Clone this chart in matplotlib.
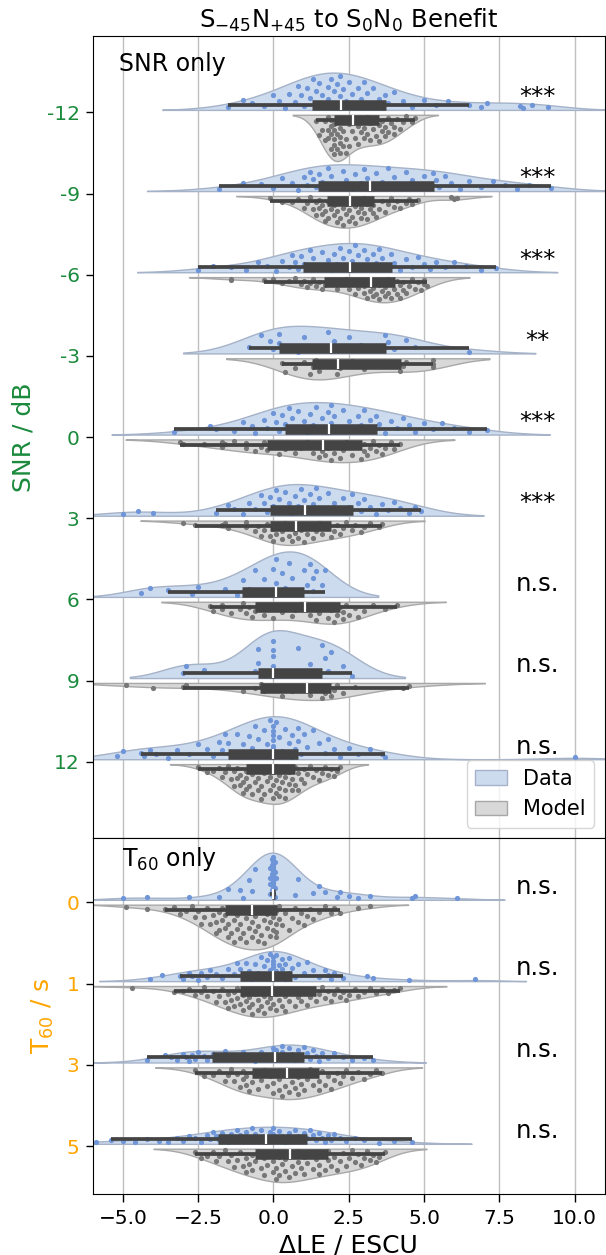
import numpy as np
import matplotlib
matplotlib.use("Agg")

import matplotlib.pyplot as plt
import matplotlib.patches as mpatches

# categories and significance labels
snr_levels = ["-12", "-9", "-6", "-3", "0", "3", "6", "9", "12"]
t60_levels = ["0", "1", "3", "5"]
snr_sig = ["***", "***", "***", "**", "***", "***", "n.s.", "n.s.", "n.s."]
t60_sig = ["n.s.", "n.s.", "n.s.", "n.s."]

# benefit values (dLE / ESCU), SNR-only conditions
snr_m12_data = [-1.5, -1.0, -0.7, -0.3, 0.0, 0.2, 0.4, 0.5, 0.7, 0.8, 0.9, 1.0, 1.1, 1.2,
                1.3, 1.4, 1.4, 1.5, 1.6, 1.7, 1.8, 1.8, 1.9, 2.0, 2.0, 2.1, 2.2, 2.2,
                2.3, 2.4, 2.5, 2.6, 2.7, 2.8, 2.9, 3.0, 3.1, 3.2, 3.3, 3.5, 3.6, 3.7,
                3.8, 4.0, 4.3, 4.6, 5.0, 5.4, 5.8, 6.5, 6.9, 7.1, 8.2, 8.3, 8.6, 9.1]
snr_m12_model = [1.4, 1.5, 1.6, 1.7, 1.7, 1.8, 1.8, 1.8, 1.9, 1.9, 1.9, 1.9, 2.0, 2.0, 2.0, 2.0,
                 2.0, 2.1, 2.1, 2.1, 2.2, 2.2, 2.2, 2.2, 2.3, 2.3, 2.3, 2.4, 2.4, 2.5, 2.5, 2.6,
                 2.7, 2.7, 2.8, 2.8, 2.9, 2.9, 3.0, 3.0, 3.1, 3.1, 3.2, 3.2, 3.3, 3.4, 3.4, 3.5,
                 3.5, 3.6, 3.6, 3.7, 3.7, 3.8, 3.8, 3.9, 4.0, 4.0, 4.1, 4.2, 4.3, 4.4, 4.6, 4.7]
snr_m9_data = [-1.8, -1.0, -0.4, 0.0, 0.3, 0.6, 0.8, 1.0, 1.1, 1.2, 1.3, 1.4,
               1.5, 1.6, 1.8, 1.9, 2.1, 2.3, 2.4, 2.6, 2.7, 2.9, 3.0, 3.1,
               3.3, 3.4, 3.6, 3.8, 4.0, 4.2, 4.4, 4.6, 4.8, 5.0, 5.2, 5.3,
               5.4, 5.5, 5.7, 5.9, 6.2, 6.5, 6.9, 7.3, 7.7, 8.1, 8.5, 9.2]
snr_m9_model = [-0.1, 0.3, 0.6, 0.8, 1.0, 1.1, 1.2, 1.3, 1.4, 1.4, 1.5, 1.5, 1.6, 1.6, 1.7, 1.7,
                1.8, 1.8, 1.9, 1.9, 2.0, 2.0, 2.1, 2.1, 2.2, 2.2, 2.3, 2.3, 2.4, 2.4, 2.5, 2.5,
                2.6, 2.6, 2.7, 2.7, 2.8, 2.8, 2.9, 2.9, 3.0, 3.0, 3.1, 3.1, 3.2, 3.2, 3.3, 3.3,
                3.4, 3.5, 3.6, 3.7, 3.8, 3.9, 4.0, 4.1, 4.2, 4.4, 4.5, 4.6, 4.8, 5.9, 6.0, 6.1]
snr_m6_data = [-2.5, -2.0, -1.4, -0.9, -0.5, -0.2, 0.1, 0.3, 0.5, 0.6, 0.7, 0.8, 0.9,
               1.0, 1.2, 1.3, 1.5, 1.6, 1.8, 1.9, 2.0, 2.1, 2.2, 2.3, 2.4, 2.5,
               2.6, 2.7, 2.8, 2.9, 3.0, 3.1, 3.2, 3.3, 3.4, 3.5, 3.6, 3.8, 3.9,
               4.0, 4.2, 4.4, 4.6, 4.8, 5.0, 5.2, 5.4, 5.7, 6.0, 6.4, 6.9, 7.4]
snr_m6_model = [-1.4, -1.4, -0.3, 0.0, 0.3, 0.5, 0.7, 0.9, 1.0, 1.1, 1.2, 1.3, 1.4, 1.5, 1.6,
                1.7, 1.9, 2.1, 2.3, 2.4, 2.5, 2.6, 2.7, 2.8, 2.9, 3.0, 3.0, 3.1, 3.2, 3.2,
                3.3, 3.3, 3.4, 3.4, 3.5, 3.5, 3.6, 3.6, 3.7, 3.7, 3.8, 3.8, 3.9, 3.9, 4.0,
                4.1, 4.1, 4.2, 4.2, 4.3, 4.3, 4.4, 4.5, 4.6, 4.7, 4.8, 4.9, 5.0, 5.0, 5.1]
snr_m3_data = [-0.8, -0.4, -0.1, 0.0, 0.2, 0.2, 0.8, 1.0, 1.3, 1.8,
               2.0, 2.1, 2.5, 2.9, 3.7, 3.8, 4.0, 4.4, 4.7, 6.5]
snr_m3_model = [0.3, 0.4, 0.7, 1.0, 1.2, 1.3, 1.4, 1.5, 2.0, 2.1,
                2.2, 2.6, 3.0, 3.6, 4.2, 4.3, 4.4, 5.3, 5.3, 5.3]
snr_0_data = [-3.3, -2.1, -1.9, -1.3, -1.0, -0.7, -0.6, -0.3, -0.2, 0.0, 0.1, 0.2, 0.3,
              0.4, 0.5, 0.6, 0.7, 0.8, 1.0, 1.1, 1.2, 1.3, 1.4, 1.6, 1.7, 1.8,
              1.9, 1.9, 2.0, 2.2, 2.3, 2.5, 2.6, 2.8, 2.9, 3.0, 3.2, 3.3, 3.4,
              3.5, 3.7, 3.9, 4.1, 4.3, 4.5, 4.7, 5.0, 5.3, 5.6, 6.0, 6.5, 7.1]
snr_0_model = [-3.1, -3.0, -2.3, -1.7, -1.7, -1.6, -1.3, -0.9, -0.9, -0.6, -0.4, -0.3,
               -0.2, 0.0, 0.2, 0.4, 0.6, 0.7, 0.9, 1.1, 1.3, 1.4, 1.5, 1.6,
               1.7, 1.7, 1.8, 1.9, 2.0, 2.1, 2.2, 2.3, 2.4, 2.6, 2.7, 2.9,
               3.0, 3.0, 3.1, 3.2, 3.3, 3.4, 3.5, 3.6, 3.7, 3.9, 4.0, 4.2]
snr_3_data = [-5.0, -4.5, -4.0, -1.9, -1.5, -1.3, -1.0, -0.8, -0.6, -0.4, -0.3, -0.2,
              -0.1, 0.0, 0.1, 0.2, 0.3, 0.4, 0.5, 0.6, 0.7, 0.8, 0.9, 1.0,
              1.1, 1.2, 1.3, 1.4, 1.5, 1.7, 1.8, 2.0, 2.1, 2.3, 2.5, 2.6,
              2.8, 2.9, 3.0, 3.2, 3.4, 3.6, 3.8, 4.0, 4.2, 4.5, 4.7, 4.9]
snr_3_model = [-3.0, -2.6, -1.7, -1.6, -1.5, -0.9, -0.9, -0.6, -0.5, -0.4, -0.3, -0.2,
               -0.1, 0.0, 0.0, 0.1, 0.2, 0.3, 0.3, 0.4, 0.5, 0.5, 0.6, 0.7,
               0.8, 0.8, 0.9, 1.0, 1.1, 1.2, 1.3, 1.4, 1.5, 1.6, 1.8, 1.9,
               2.0, 2.1, 2.2, 2.3, 2.4, 2.6, 2.7, 2.9, 3.0, 3.2, 3.5, 3.6]
snr_6_data = [-4.4, -4.1, -3.5, -2.7, -2.5, -1.6, -1.2,
              -1.0, -0.8, -0.6, -0.3, -0.1, 0.0, 0.1,
              0.1, 0.3, 0.4, 0.5, 0.6, 0.8, 1.0,
              1.1, 1.2, 1.3, 1.3, 1.4, 1.6, 1.7]
snr_6_model = [-2.1, -2.0, -1.7, -1.7, -1.4, -1.1, -1.0, -0.9, -0.8, -0.7,
               -0.6, -0.5, -0.3, -0.1, 0.0, 0.3, 0.4, 0.6, 0.7, 0.9,
               1.2, 1.3, 1.4, 1.5, 1.7, 1.8, 1.9, 2.0, 2.1, 2.2,
               2.3, 2.3, 2.4, 2.5, 2.7, 2.8, 3.0, 3.3, 3.7, 4.1]
snr_9_data = [-3.0, -2.9, -2.3, -0.6, -0.5, -0.5, 0.0, 0.0, 0.0, 0.0,
              0.0, 0.3, 0.8, 1.2, 1.6, 1.7, 1.8, 1.9, 2.3, 2.6]
snr_9_model = [-4.9, -4.0, -3.0, -2.9, -1.0, -0.6, -0.4, -0.3, 0.0, 0.3, 0.6, 1.0,
               1.2, 1.5, 1.6, 1.7, 1.8, 1.9, 2.0, 2.1, 2.3, 2.7, 4.3, 4.5]
snr_12_data = [-5.2, -5.0, -4.4, -4.3, -4.1, -3.9, -3.5, -3.2, -2.8, -2.5, -2.2, -2.0, -1.8, -1.7, -1.6,
               -1.5, -1.3, -1.2, -1.0, -0.9, -0.8, -0.7, -0.6, -0.5, -0.4, -0.3, -0.2, -0.1, 0.0, 0.0,
               0.0, 0.0, 0.0, 0.0, 0.0, 0.1, 0.2, 0.3, 0.4, 0.5, 0.6, 0.6, 0.7, 0.8, 0.8,
               0.9, 1.0, 1.1, 1.3, 1.5, 1.7, 1.8, 2.0, 2.2, 2.5, 2.8, 3.2, 3.6, 3.7, 10.0]
snr_12_model = [-2.5, -2.2, -2.0, -1.8, -1.7, -1.6, -1.5, -1.4, -1.3, -1.3, -1.2, -1.2, -1.1, -1.1,
                -1.0, -1.0, -0.9, -0.9,
                -0.9, -0.8, -0.8, -0.7, -0.7, -0.6, -0.6, -0.5, -0.5, -0.4, -0.4, -0.3, -0.3, -0.2,
                -0.2, -0.1, -0.1, 0.0,
                0.0, 0.0, 0.1, 0.1, 0.1, 0.2, 0.2, 0.2, 0.3, 0.3, 0.4, 0.4, 0.4, 0.5, 0.5, 0.6,
                0.6, 0.7,
                0.7, 0.8, 0.8, 0.9, 1.0, 1.0, 1.1, 1.2, 1.3, 1.4, 1.5, 1.6, 1.7, 1.8, 1.9, 2.0,
                2.1, 2.2]

# T60-only conditions
t60_0_data = [-5.0, -4.2, -2.8, -1.8, -1.5, -1.1, -1.0, -0.8, -0.7, -0.6,
              -0.1, -0.1, -0.1, -0.1, -0.05, -0.05, -0.05, -0.05,
              0.0, 0.0, 0.0, 0.0, 0.0, 0.0, 0.0, 0.0, 0.0, 0.0, 0.0,
              0.0, 0.0, 0.0, 0.0, 0.0, 0.0, 0.0, 0.0, 0.0, 0.0, 0.0,
              0.05, 0.05, 0.05, 0.05,
              0.1, 0.7, 0.8, 1.3, 1.5, 1.7, 2.1, 2.2, 2.5, 2.8, 3.2, 4.6, 4.7, 6.1]
t60_0_model = [-4.9, -4.2, -3.6, -3.3, -3.1, -2.9, -2.7, -2.6, -2.5, -2.4, -2.3, -2.2, -2.1, -2.0,
               -1.9, -1.9, -1.8, -1.8, -1.7, -1.7,
               -1.6, -1.6, -1.5, -1.5, -1.4, -1.4, -1.3, -1.3, -1.2, -1.2, -1.1, -1.1, -1.0, -1.0,
               -0.9, -0.9, -0.8, -0.8, -0.7, -0.7,
               -0.7, -0.6, -0.6, -0.5, -0.5, -0.4, -0.4, -0.3, -0.3, -0.2, -0.2, -0.1, -0.1, 0.0,
               0.0, 0.0, 0.1, 0.1, 0.1, 0.1,
               0.2, 0.2, 0.3, 0.4, 0.5, 0.6, 0.7, 0.8, 0.9, 1.0, 1.1, 1.2, 1.3, 1.5,
               1.7, 1.9, 2.0, 2.2, 2.8, 3.2]
t60_1_data = [-4.1, -3.7, -3.1, -3.0, -2.8, -2.7, -2.5, -2.4, -2.2, -2.1, -1.9, -1.7, -1.5, -1.3, -1.2,
              -1.1, -1.0, -0.9, -0.8, -0.7, -0.6, -0.5, -0.4, -0.3, -0.2, -0.2, -0.1, -0.1, 0.0, 0.0,
              0.0, 0.0, 0.0, 0.0, 0.1, 0.1, 0.2, 0.2, 0.3, 0.3, 0.4, 0.4, 0.5, 0.5, 0.6,
              0.7, 0.8, 1.0, 1.1, 1.3, 1.5, 1.7, 1.8, 1.9, 2.0, 2.3, 3.1, 3.3, 4.5, 6.7]
t60_1_model = [-4.7, -3.3, -3.0, -2.8, -2.6, -2.4, -2.3, -2.2, -2.0, -1.9, -1.8, -1.7, -1.6, -1.5,
               -1.5, -1.4, -1.3, -1.3, -1.2, -1.2,
               -1.1, -1.0, -1.0, -0.9, -0.9, -0.8, -0.8, -0.7, -0.7, -0.6, -0.5, -0.5, -0.4, -0.4,
               -0.3, -0.3, -0.2, -0.2, -0.1, -0.1,
               0.0, 0.0, 0.1, 0.1, 0.2, 0.2, 0.3, 0.4, 0.4, 0.5, 0.6, 0.7, 0.8, 0.8,
               0.9, 1.0, 1.1, 1.2, 1.3, 1.4,
               1.5, 1.6, 1.7, 1.8, 1.9, 2.0, 2.1, 2.2, 2.3, 2.4, 2.5, 2.7, 2.8, 3.0,
               3.2, 3.4, 3.6, 3.8, 4.0, 4.2]
t60_3_data = [-4.2, -3.6, -3.4, -3.2, -3.0, -2.9, -2.8, -2.7, -2.6, -2.5, -2.3, -2.2,
              -2.0, -1.8, -1.6, -1.4, -1.2, -1.0, -0.8, -0.6, -0.4, -0.2, 0.0, 0.0,
              0.1, 0.1, 0.2, 0.3, 0.3, 0.4, 0.5, 0.6, 0.7, 0.8, 0.9, 1.0,
              1.1, 1.2, 1.3, 1.4, 1.5, 1.6, 1.8, 2.0, 2.3, 2.6, 3.0, 3.3]
t60_3_model = [-2.6, -2.3, -2.0, -1.8, -1.6, -1.5, -1.4, -1.3, -1.2, -1.1, -1.0, -1.0, -0.9, -0.9, -0.8,
               -0.7, -0.6, -0.5, -0.4, -0.3, -0.2, -0.1, 0.0, 0.0, 0.1, 0.2, 0.2, 0.3, 0.4, 0.4,
               0.5, 0.6, 0.6, 0.7, 0.8, 0.8, 0.9, 1.0, 1.0, 1.1, 1.2, 1.3, 1.4, 1.5, 1.5,
               1.6, 1.7, 1.8, 1.9, 2.0, 2.1, 2.2, 2.3, 2.4, 2.6, 2.8, 3.0, 3.2, 3.4, 3.6]
t60_5_data = [-5.9, -5.4, -5.0, -4.6, -4.2, -3.8, -3.5, -3.2, -3.0, -2.8, -2.6, -2.4, -2.2, -2.1, -2.0, -1.9,
              -1.8, -1.7, -1.6, -1.5, -1.4, -1.3, -1.2, -1.1, -1.0, -0.9, -0.8, -0.7, -0.6, -0.5, -0.4, -0.3,
              -0.2, -0.1, -0.1, 0.0, 0.0, 0.1, 0.2, 0.3, 0.4, 0.5, 0.6, 0.7, 0.8, 0.9, 1.0, 1.1,
              1.2, 1.3, 1.4, 1.5, 1.6, 1.7, 1.8, 1.9, 2.0, 2.2, 2.4, 2.7, 3.0, 3.5, 4.0, 4.6]
t60_5_model = [-2.6, -2.4, -2.2, -2.0, -1.9, -1.8, -1.6, -1.5, -1.4, -1.3, -1.2, -1.1, -1.0, -0.9,
               -0.9, -0.8, -0.7, -0.7,
               -0.6, -0.5, -0.4, -0.3, -0.3, -0.2, -0.1, 0.0, 0.0, 0.1, 0.1, 0.2, 0.2, 0.3,
               0.3, 0.4, 0.4, 0.5,
               0.6, 0.6, 0.7, 0.8, 0.8, 0.9, 1.0, 1.0, 1.1, 1.2, 1.3, 1.4, 1.5, 1.5,
               1.6, 1.7, 1.8, 1.8,
               1.9, 2.0, 2.1, 2.2, 2.3, 2.4, 2.5, 2.6, 2.7, 2.8, 2.9, 3.0, 3.1, 3.2,
               3.3, 3.4, 3.5, 3.7]

snr_data = [snr_m12_data, snr_m9_data, snr_m6_data, snr_m3_data, snr_0_data,
            snr_3_data, snr_6_data, snr_9_data, snr_12_data]
snr_model = [snr_m12_model, snr_m9_model, snr_m6_model, snr_m3_model, snr_0_model,
             snr_3_model, snr_6_model, snr_9_model, snr_12_model]
t60_data = [t60_0_data, t60_1_data, t60_3_data, t60_5_data]
t60_model = [t60_0_model, t60_1_model, t60_3_model, t60_5_model]

# half-violin heights in category units (style)
snr_h_data = [0.46, 0.33, 0.36, 0.34, 0.40, 0.39, 0.56, 0.59, 0.53]
snr_h_model = [0.57, 0.39, 0.31, 0.26, 0.28, 0.30, 0.27, 0.21, 0.49]
t60_h_data = [0.58, 0.37, 0.22, 0.21]
t60_h_model = [0.55, 0.38, 0.39, 0.41]

GREEN = "#1a8a3c"
ORANGE = "#ffa500"
DATA_FACE, DATA_EDGE, DATA_DOT = "#cddbef", "#a5b2c7", "#6e95d8"
MODEL_FACE, MODEL_EDGE, MODEL_DOT = "#d8d8d8", "#a8a8a8", "#777777"
BOX_C = "#444444"
GAP = 0.03
BOX_OFF = 0.095
WHIS = 1.25


def half_violin(ax, vals, pos, height, side, face, edge, dot):
    # side -1 draws towards the top of the axes (y inverted), +1 towards the bottom
    v = np.asarray(vals, dtype=float)
    bw = v.std(ddof=1) * len(v) ** (-0.2)
    grid = np.linspace(v.min() - 2 * bw, v.max() + 2 * bw, 250)
    dens = np.exp(-0.5 * ((grid[:, None] - v[None, :]) / bw) ** 2).sum(axis=1)
    dens = dens / dens.max() * height
    base = pos + side * GAP
    ax.fill_between(grid, base, base + side * dens,
                    facecolor=face, edgecolor=edge, linewidth=1.0, zorder=1)

    # sina-style points, spread by local density
    u = (np.arange(len(v)) * 0.6180339887 + 0.31) % 1.0
    w = np.interp(v, grid, dens)
    ax.scatter(v, base + side * (0.015 + u * 0.88 * w),
               s=14, color=dot, linewidths=0, zorder=2)

    # inner box
    q1, med, q3 = np.percentile(v, [25, 50, 75])
    iqr = q3 - q1
    lo = v[v >= q1 - WHIS * iqr].min()
    hi = v[v <= q3 + WHIS * iqr].max()
    yb = pos + side * BOX_OFF
    ax.plot([lo, hi], [yb, yb], color=BOX_C, lw=2.7,
            solid_capstyle="butt", zorder=3)
    ax.plot([q1, q3], [yb, yb], color=BOX_C, lw=7.6,
            solid_capstyle="butt", zorder=3)
    ax.plot([med], [yb], marker="|", color="white", ms=7,
            mew=1.6, zorder=4)


def draw_panel(ax, data, model, h_data, h_model, labels, sig, color, ylabel):
    for i in range(len(labels)):
        half_violin(ax, data[i], i, h_data[i], -1, DATA_FACE, DATA_EDGE, DATA_DOT)
        half_violin(ax, model[i], i, h_model[i], 1, MODEL_FACE, MODEL_EDGE, MODEL_DOT)
        ax.text(8.75, i - 0.1, sig[i], ha="center", va="baseline", fontsize=17.5)

    ax.set_xlim(-6, 11)
    ax.set_xticks(np.arange(-5, 10.1, 2.5))
    ax.set_yticks(range(len(labels)))
    ax.set_yticklabels(labels)
    ax.tick_params(axis="y", labelsize=14.5, labelcolor=color,
                   length=5, width=1, pad=4.5)
    ax.tick_params(axis="x", labelsize=14.5, length=5.5, width=1, pad=5)
    ax.set_ylabel(ylabel, color=color, fontsize=18, labelpad=8)
    ax.grid(axis="x", color="#bfbfbf", linewidth=1.0)
    ax.set_axisbelow(True)


fig = plt.figure(figsize=(6.06, 12.55), dpi=100)
ax_top = fig.add_axes([0.153, 0.3323, 0.845, 0.6393])
ax_bot = fig.add_axes([0.153, 0.0484, 0.845, 0.2839], sharex=ax_top)

draw_panel(ax_top, snr_data, snr_model, snr_h_data, snr_h_model,
           snr_levels, snr_sig, GREEN, "SNR / dB")
draw_panel(ax_bot, t60_data, t60_model, t60_h_data, t60_h_model,
           t60_levels, t60_sig, ORANGE, "T$_{60}$ / s")

ax_top.set_ylim(8.94, -0.945)
ax_bot.set_ylim(3.59, -0.79)
ax_top.tick_params(axis="x", length=0, labelbottom=False)

ax_top.set_title("S$_{-45}$N$_{+45}$ to S$_0$N$_0$ Benefit", fontsize=17.5)
ax_bot.set_xlabel("\u0394LE / ESCU", fontsize=18)

ax_top.text(0.052, 0.9564, "SNR only", transform=ax_top.transAxes,
            fontsize=17, va="baseline")
ax_bot.text(0.057, 0.922, "T$_{60}$ only", transform=ax_bot.transAxes,
            fontsize=17, va="baseline")

handles = [
    mpatches.Patch(facecolor=DATA_FACE, edgecolor=DATA_EDGE, label="Data"),
    mpatches.Patch(facecolor=MODEL_FACE, edgecolor=MODEL_EDGE, label="Model"),
]
ax_top.legend(handles=handles, loc="lower right", fontsize=15, handlelength=1.5)

fig.savefig("out.png", dpi=100)
plt.close(fig)
